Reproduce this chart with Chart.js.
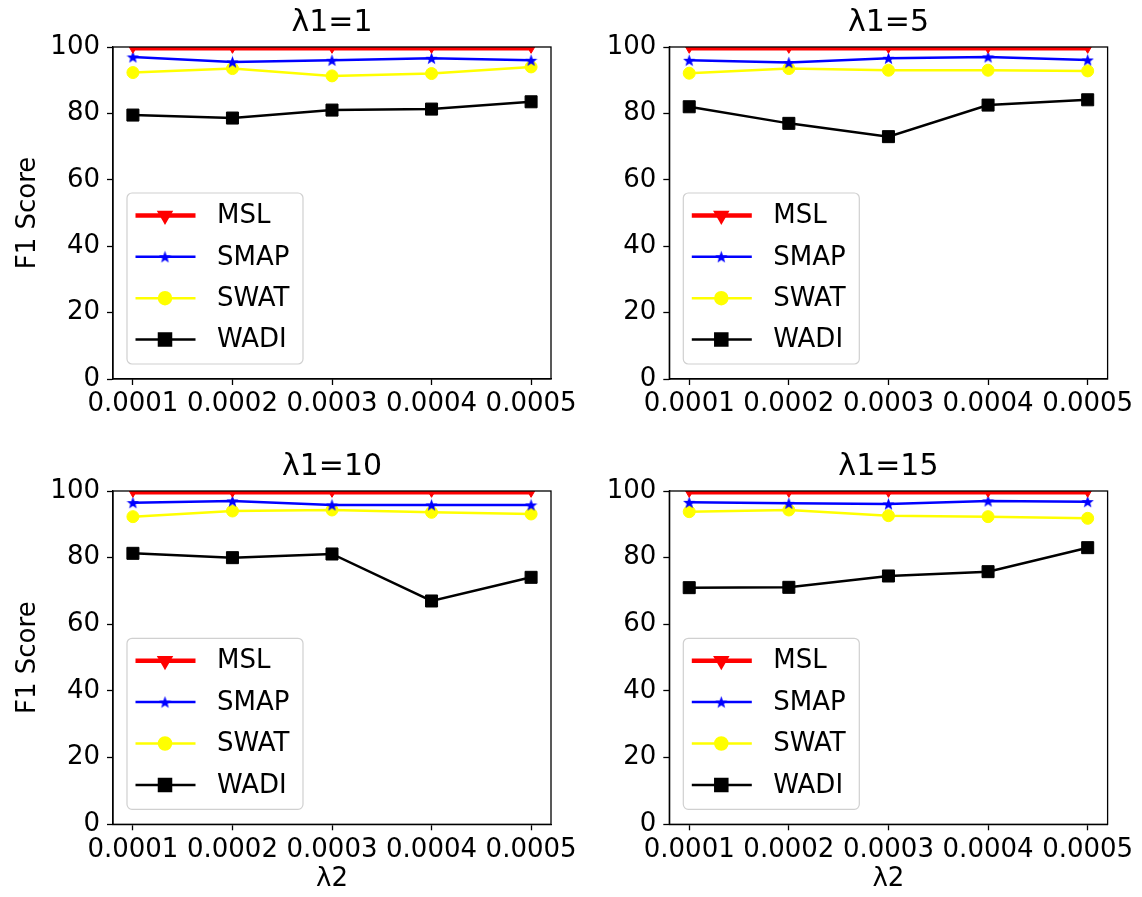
<!DOCTYPE html>
<html>
<head>
<meta charset="utf-8">
<script src="https://cdn.jsdelivr.net/npm/chart.js@4/dist/chart.umd.min.js"></script>
<style>
  body { margin:0; background:#fff; width:1142px; height:897px; overflow:hidden; }
  canvas { position:absolute; }
</style>
</head>
<body>
<canvas id="c2" width="571" height="445" style="left:571px;top:0"></canvas>
<canvas id="c4" width="571" height="452" style="left:571px;top:445px"></canvas>
<canvas id="c1" width="600" height="445" style="left:0;top:0"></canvas>
<canvas id="c3" width="600" height="452" style="left:0;top:445px"></canvas>
<script>
// lambda2 values on the x axis
const xTicks  = [0.0001, 0.0002, 0.0003, 0.0004, 0.0005];
const xLabels = ['0.0001', '0.0002', '0.0003', '0.0004', '0.0005'];
const yTicks  = [0, 20, 40, 60, 80, 100];
const seriesNames = ['MSL', 'SMAP', 'SWAT', 'WADI'];
const panelTitles = ['λ1=1', 'λ1=5', 'λ1=10', 'λ1=15'];

// λ1=1
const msl1  = [99.6, 99.6, 99.6, 99.6, 99.6];
const smap1 = [97.0, 95.5, 96.0, 96.6, 96.0];
const swat1 = [92.3, 93.5, 91.3, 92.0, 94.0];
const wadi1 = [79.5, 78.6, 81.0, 81.3, 83.5];
// λ1=5
const msl5  = [99.6, 99.6, 99.6, 99.6, 99.6];
const smap5 = [96.0, 95.3, 96.6, 97.0, 96.1];
const swat5 = [92.1, 93.5, 93.0, 93.0, 92.8];
const wadi5 = [82.0, 77.0, 73.0, 82.5, 84.1];
// λ1=10
const msl10  = [99.6, 99.6, 99.6, 99.6, 99.6];
const smap10 = [96.5, 97.0, 95.8, 95.8, 95.8];
const swat10 = [92.3, 94.0, 94.3, 93.6, 93.1];
const wadi10 = [81.3, 80.0, 81.1, 67.0, 74.1];
// λ1=15
const msl15  = [99.6, 99.6, 99.6, 99.6, 99.6];
const smap15 = [96.6, 96.3, 96.1, 97.0, 96.8];
const swat15 = [93.8, 94.3, 92.6, 92.3, 91.8];
const wadi15 = [71.0, 71.1, 74.5, 75.8, 83.0];

const FONT = 'DejaVu Sans';

// filled 5-point star like matplotlib '*'
function makeStar(size, color) {
  const c = document.createElement('canvas');
  c.width = size; c.height = size;
  const g = c.getContext('2d');
  const cx = size / 2, cy = size / 2 + 0.6, R = size / 2, r = R * 0.42;
  g.beginPath();
  for (let i = 0; i < 10; i++) {
    const a = -Math.PI / 2 + i * Math.PI / 5;
    const rr = i % 2 === 0 ? R : r;
    g.lineTo(cx + rr * Math.cos(a), cy + rr * Math.sin(a));
  }
  g.closePath();
  g.fillStyle = color;
  g.fill();
  return c;
}
const star = makeStar(13, '#0000ff');

const styles = [
  { color:'#ff0000', width:4.5, pointStyle:'triangle', rotation:180, radius:5 },
  { color:'#0000ff', width:2.5, pointStyle:star, rotation:0, radius:6 },
  { color:'#ffff00', width:2.5, pointStyle:'circle', rotation:0, radius:6 },
  { color:'#000000', width:2.5, pointStyle:'rect', rotation:0, radius:8.5 }
];

// axes frame (all four spines)
const framePlugin = {
  id: 'frame',
  afterDraw(chart) {
    const a = chart.chartArea, ctx = chart.ctx;
    ctx.save();
    ctx.strokeStyle = '#000';
    ctx.lineWidth = 1.3;
    ctx.strokeRect(a.left, a.top, a.right - a.left, a.bottom - a.top);
    ctx.restore();
  }
};

// matplotlib-style legend box in the lower left of the axes
const legendPlugin = {
  id: 'mplLegend',
  afterDatasetsDraw(chart) {
    const a = chart.chartArea, ctx = chart.ctx;
    const w = 176, h = 171;
    const bx = a.left + 14, by = a.bottom - 15 - h;
    ctx.save();
    ctx.beginPath();
    ctx.roundRect(bx, by, w, h, 5);
    ctx.fillStyle = 'rgba(255,255,255,0.85)';
    ctx.fill();
    ctx.strokeStyle = '#d0d0d0';
    ctx.lineWidth = 1.2;
    ctx.stroke();
    chart.data.datasets.forEach((ds, i) => {
      const st = styles[i];
      const y = by + 22.4 + i * 41.4;
      ctx.beginPath();
      ctx.strokeStyle = st.color;
      ctx.lineWidth = st.width;
      ctx.moveTo(bx + 8.5, y);
      ctx.lineTo(bx + 68.5, y);
      ctx.stroke();
      ctx.fillStyle = st.color;
      ctx.strokeStyle = st.color;
      Chart.helpers.drawPoint(ctx, { pointStyle: st.pointStyle, rotation: st.rotation, radius: st.radius, borderWidth: 1 }, bx + 38, y);
      ctx.fillStyle = '#000';
      ctx.font = '26px "' + FONT + '"';
      ctx.textBaseline = 'middle';
      ctx.textAlign = 'left';
      ctx.fillText(ds.label, bx + 90, y + 1);
    });
    ctx.restore();
  }
};

function makePanel(id, title, series, opts) {
  const ctx = document.getElementById(id).getContext('2d');
  new Chart(ctx, {
    type: 'line',
    data: {
      datasets: series.map((vals, i) => ({
        label: seriesNames[i],
        data: vals.map((v, j) => ({ x: xTicks[j], y: v })),
        borderColor: styles[i].color,
        backgroundColor: styles[i].color,
        borderWidth: styles[i].width,
        pointStyle: styles[i].pointStyle,
        pointRotation: styles[i].rotation,
        pointRadius: styles[i].radius,
        pointBorderWidth: 1,
        pointHoverRadius: styles[i].radius,
        tension: 0
      }))
    },
    options: {
      responsive: false,
      animation: false,
      devicePixelRatio: 1,
      layout: { padding: { left: 0, right: opts.padRight, top: 0, bottom: 0 } },
      plugins: {
        legend: { display: false },
        tooltip: { enabled: false },
        title: {
          display: true, text: title, color: '#000', fullSize: false,
          font: { family: FONT, size: 30, weight: 'normal', lineHeight: 1.2 },
          padding: { top: opts.titleTop, bottom: opts.titleBottom }
        }
      },
      scales: {
        x: {
          type: 'linear', min: 0.00008, max: 0.00052,
          afterBuildTicks: s => { s.ticks = xTicks.map(v => ({ value: v })); },
          afterFit: s => { s.height = opts.xHeight; s.paddingLeft = 0; s.paddingRight = 0; },
          ticks: {
            autoSkip: false, maxRotation: 0, color: '#000', padding: 4,
            font: { family: FONT, size: 26 },
            callback: (v, i) => xLabels[i]
          },
          grid: { drawOnChartArea: false, drawTicks: true, tickLength: 6, color: '#000', tickWidth: 1.3 },
          border: { color: '#000', width: 1.3 },
          title: {
            display: opts.xTitle, text: 'λ2', color: '#000',
            font: { family: FONT, size: 26 }, padding: { top: 0, bottom: 2 }
          }
        },
        y: {
          min: 0, max: 100,
          afterBuildTicks: s => { s.ticks = yTicks.map(v => ({ value: v })); },
          afterFit: s => { s.width = opts.yWidth; s.paddingTop = 0; s.paddingBottom = 0; },
          ticks: { color: '#000', padding: 7, font: { family: FONT, size: 26 } },
          grid: { drawOnChartArea: false, drawTicks: true, tickLength: 6, color: '#000', tickWidth: 1.3 },
          border: { color: '#000', width: 1.3 },
          title: {
            display: opts.yTitle, text: 'F1 Score', color: '#000',
            font: { family: FONT, size: 26 }, padding: { top: 13, bottom: 0 }
          }
        }
      }
    },
    plugins: [framePlugin, legendPlugin]
  });
}

makePanel('c1', panelTitles[0], [msl1, smap1, swat1, wadi1],
  { padRight: 49, yWidth: 113, xHeight: 66, titleTop: 5.5, titleBottom: 5.5, xTitle: false, yTitle: true });
makePanel('c2', panelTitles[1], [msl5, smap5, swat5, wadi5],
  { padRight: 34.4, yWidth: 98.3, xHeight: 66, titleTop: 5.5, titleBottom: 5.5, xTitle: false, yTitle: false });
makePanel('c3', panelTitles[2], [msl10, smap10, swat10, wadi10],
  { padRight: 49, yWidth: 113, xHeight: 72.7, titleTop: 4.5, titleBottom: 5.5, xTitle: true, yTitle: true });
makePanel('c4', panelTitles[3], [msl15, smap15, swat15, wadi15],
  { padRight: 34.4, yWidth: 98.3, xHeight: 72.7, titleTop: 4.5, titleBottom: 5.5, xTitle: true, yTitle: false });
</script>
</body>
</html>
